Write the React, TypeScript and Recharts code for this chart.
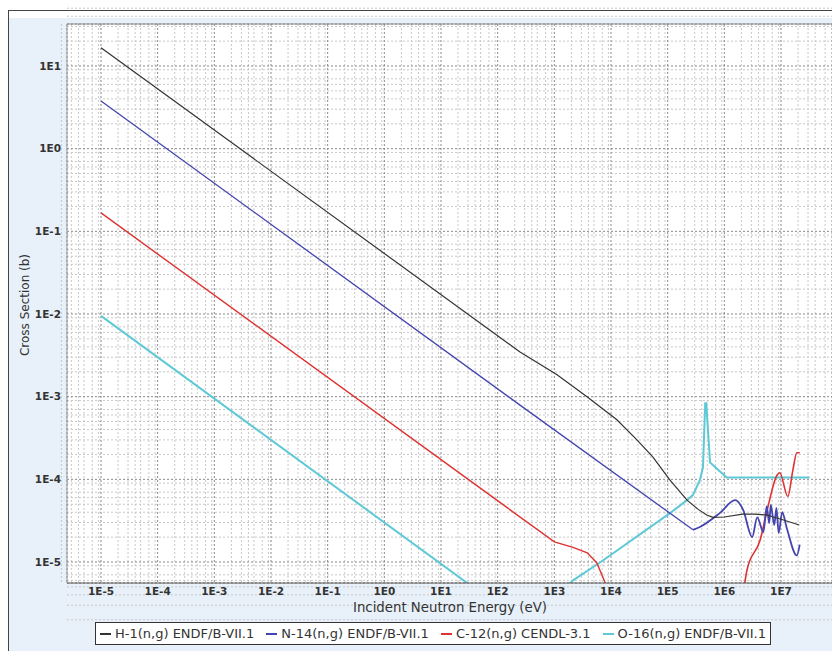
import React from "react";
import { CartesianGrid, Line, LineChart, ReferenceLine, XAxis, YAxis } from "recharts";

// [energy (eV), cross section (b)]
const h1: number[][] = [
  [1e-5, 16.6], [248, 3.47e-3], [1.1e3, 1.85e-3], [3.77e3, 1.0e-3], [1.27e4, 5.25e-4],
  [2.87e4, 3.0e-4], [5.5e4, 1.86e-4], [1.1e5, 9.8e-5], [2.2e5, 5.6e-5], [3.5e5, 4.3e-5],
  [4.9e5, 3.7e-5], [6.3e5, 3.47e-5], [1.0e6, 3.5e-5], [2.1e6, 3.8e-5], [3.5e6, 3.8e-5],
  [5.6e6, 3.7e-5], [1.07e7, 3.24e-5], [2.1e7, 2.8e-5],
];
const n14Low: number[][] = [
  [1e-5, 3.78], [248, 7.9e-4], [2.8e5, 2.45e-5],
];
const n14High: number[][] = [
  [2.8e5, 2.45e-5], [3.7e5, 2.65e-5], [8.3e5, 3.9e-5],
  [1.55e6, 5.6e-5], [2.14e6, 4.3e-5], [3.1e6, 2.0e-5], [3.8e6, 3.47e-5], [4.9e6, 2.3e-5],
  [5.6e6, 4.7e-5], [6.2e6, 2.95e-5], [6.6e6, 4.9e-5], [7.6e6, 2.8e-5], [8.3e6, 4.5e-5],
  [9.1e6, 2.24e-5], [1.05e7, 4.0e-5], [1.26e7, 2.6e-5], [1.9e7, 1.2e-5], [2.14e7, 1.62e-5],
];
const c12Low: number[][] = [
  [1e-5, 0.167], [1.0e3, 1.75e-5], [2.14e3, 1.5e-5], [3.8e3, 1.29e-5], [5.6e3, 9.8e-6],
  [7.8e3, 5.75e-6], [9.5e3, 3.5e-6],
];
const c12High: number[][] = [
  [2.1e6, 3.5e-6], [2.5e6, 7.9e-6], [4.3e6, 1.86e-5], [5.9e6, 4.7e-5], [8.5e6, 1.12e-4],
  [9.5e6, 1.2e-4], [1.32e7, 6.2e-5], [1.62e7, 1.29e-4], [1.9e7, 2.1e-4], [2.14e7, 2.1e-4],
];
const o16: number[][] = [
  [1e-5, 9.5e-3], [1e2, 3.0e-6], [3e2, 2.6e-6], [1e3, 3.6e-6], [2.14e3, 6.0e-6],
  [6.3e3, 9.8e-6], [1.1e5, 3.9e-5], [2.2e5, 5.6e-5], [2.8e5, 6.5e-5], [3.7e5, 9.8e-5],
  [4.2e5, 1.4e-4], [4.6e5, 8.3e-4], [4.8e5, 8.3e-4], [5.6e5, 1.6e-4], [1.1e6, 1.05e-4],
  [3.2e7, 1.05e-4],
];

const xTicks = [1e-5, 1e-4, 1e-3, 1e-2, 1e-1, 1, 10, 100, 1e3, 1e4, 1e5, 1e6, 1e7];
const xTickLabels = ["1E-5", "1E-4", "1E-3", "1E-2", "1E-1", "1E0", "1E1", "1E2", "1E3", "1E4", "1E5", "1E6", "1E7"];
const yTicks = [1e-5, 1e-4, 1e-3, 1e-2, 1e-1, 1, 10];
const yTickLabels = ["1E-5", "1E-4", "1E-3", "1E-2", "1E-1", "1E0", "1E1"];

const legendItems = [
  { name: "H-1(n,g) ENDF/B-VII.1", color: "#333333" },
  { name: "N-14(n,g) ENDF/B-VII.1", color: "#4444b0" },
  { name: "C-12(n,g) CENDL-3.1", color: "#dd3333" },
  { name: "O-16(n,g) ENDF/B-VII.1", color: "#5ec9d6" },
];

const toPts = (a: number[][]) => a.map(([e, s]) => ({ e, s }));

const minorVals = (from: number, to: number) => {
  const out: number[] = [];
  for (let d = from; d <= to; d++)
    for (let m = 2; m <= 9; m++) out.push(Number((m * Math.pow(10, d)).toPrecision(3)));
  return out;
};

const xDomain = [Math.pow(10, -5.6), Math.pow(10, 7.9)];
const yDomain = [Math.pow(10, -5.254), Math.pow(10, 1.508)];
const font = "'DejaVu Sans', sans-serif";
const tickStyle = { fontSize: 10.5, fill: "#333", fontWeight: "bold", fontFamily: font };

export default function App() {
  return (
    <div style={{ position: "relative", width: 832, height: 651, background: "#fff", overflow: "hidden", fontFamily: font }}>
      <style>{"body{margin:0}"}</style>
      <div style={{ position: "absolute", left: 8, top: 10, right: 0, bottom: 0, borderTop: "1px solid #444", borderLeft: "1px solid #444", background: "#e8f0f9" }}>
        <div style={{ height: 7, background: "#fff" }} />
      </div>
      <div style={{ position: "absolute", left: 0, top: 0 }}>
        <LineChart width={832} height={651} margin={{ top: 24, right: 0, bottom: 38, left: 0 }}>
          <CartesianGrid fill="#fff" stroke="#c8c8c8" strokeDasharray="2 2"
            verticalValues={minorVals(-6, 7)} horizontalValues={minorVals(-6, 1)} />
          <CartesianGrid stroke="#8a8a8a" strokeDasharray="2 2" />
          <XAxis dataKey="e" type="number" scale="log" domain={xDomain} allowDataOverflow ticks={xTicks}
            tickFormatter={(v) => xTickLabels[xTicks.indexOf(v)]} tickLine={false} tickSize={3}
            height={30} stroke="#555" tick={tickStyle} />
          <YAxis dataKey="s" type="number" scale="log" domain={yDomain} allowDataOverflow ticks={yTicks}
            tickFormatter={(v) => yTickLabels[yTicks.indexOf(v)]} tickLine={false} tickSize={4}
            width={67} stroke="#999" tick={tickStyle} />
          <ReferenceLine y={yDomain[1]} stroke="#888" />
          <Line data={toPts(o16)} dataKey="s" type="linear" stroke="#5ec9d6" strokeWidth={2} dot={false} isAnimationActive={false} />
          <Line data={toPts(c12Low)} dataKey="s" type="linear" stroke="#dd3333" strokeWidth={1.4} dot={false} isAnimationActive={false} />
          <Line data={toPts(c12High)} dataKey="s" type="monotone" stroke="#dd3333" strokeWidth={1.6} dot={false} isAnimationActive={false} />
          <Line data={toPts(n14Low)} dataKey="s" type="linear" stroke="#4444b0" strokeWidth={1.3} dot={false} isAnimationActive={false} />
          <Line data={toPts(n14High)} dataKey="s" type="monotone" stroke="#4444b0" strokeWidth={1.8} dot={false} isAnimationActive={false} />
          <Line data={toPts(h1)} dataKey="s" type="linear" stroke="#333333" strokeWidth={1.2} dot={false} isAnimationActive={false} />
        </LineChart>
      </div>
      <div style={{ position: "absolute", left: 300, width: 300, top: 601, fontSize: 13.3, lineHeight: "14px", color: "#333", textAlign: "center", whiteSpace: "nowrap" }}>
        Incident Neutron Energy (eV)
      </div>
      <div style={{ position: "absolute", left: 25, top: 305, fontSize: 12, color: "#333", whiteSpace: "nowrap", transform: "translate(-50%, -50%) rotate(-90deg)" }}>
        Cross Section (b)
      </div>
      <div style={{ position: "absolute", left: 95, top: 622, width: 676, height: 23, border: "1px solid #333", background: "#fff", display: "flex", alignItems: "center", justifyContent: "space-between", padding: "0 4px", boxSizing: "border-box" }}>
        {legendItems.map((it) => (
          <div key={it.name} style={{ display: "flex", alignItems: "center", fontSize: 13, color: "#333", whiteSpace: "nowrap" }}>
            <span style={{ display: "inline-block", width: 11, height: 2, background: it.color, marginRight: 4 }} />
            {it.name}
          </div>
        ))}
      </div>
    </div>
  );
}
